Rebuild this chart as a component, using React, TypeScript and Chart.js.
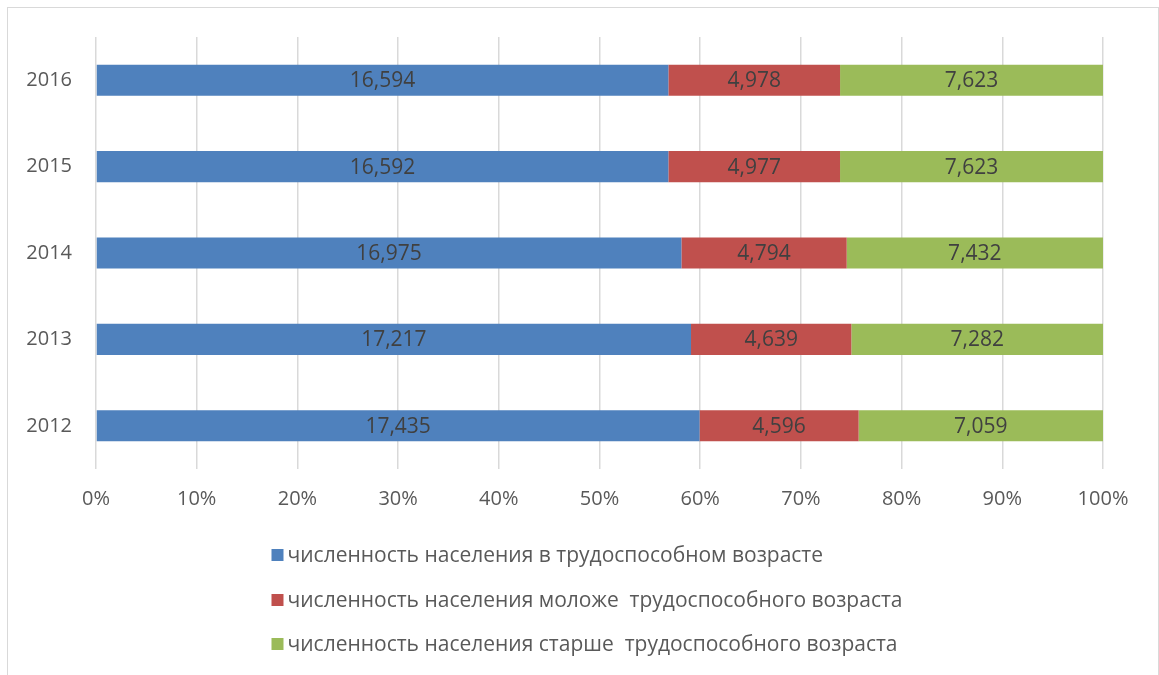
import React, { useEffect, useRef } from 'react';
import { Chart, registerables } from 'chart.js';

Chart.register(...registerables);

// ---- Data ----
const years = ['2012', '2013', '2014', '2015', '2016'];
const workingAge = [17.435, 17.217, 16.975, 16.592, 16.594];
const belowWorkingAge = [4.596, 4.639, 4.794, 4.977, 4.978];
const aboveWorkingAge = [7.059, 7.282, 7.432, 7.623, 7.623];
const seriesNames = [
  'численность населения в трудоспособном возрасте',
  'численность населения моложе  трудоспособного возраста',
  'численность населения старше  трудоспособного возраста',
];
const seriesColors = ['#4F81BD', '#C0504D', '#9BBB59'];
const xTickStep = 10;

const rawSeries = [workingAge, belowWorkingAge, aboveWorkingAge];
const totals = years.map((_, i) => rawSeries.reduce((s, arr) => s + arr[i], 0));
const percentSeries = rawSeries.map((arr) => arr.map((v, i) => (v / totals[i]) * 100));

const FONT = '"Open Sans", "Liberation Sans", sans-serif';

const fmt = (v: number) => v.toFixed(3).replace('.', ',');

const valueLabels = {
  id: 'valueLabels',
  afterDatasetsDraw(chart: any) {
    const ctx = chart.ctx;
    ctx.save();
    ctx.font = `21px ${FONT}`;
    ctx.fillStyle = '#404040';
    ctx.textAlign = 'center';
    ctx.textBaseline = 'middle';
    chart.data.datasets.forEach((ds: any, i: number) => {
      const meta = chart.getDatasetMeta(i);
      meta.data.forEach((el: any, j: number) => {
        const { x, y, base } = el.getProps(['x', 'y', 'base'], true);
        ctx.fillText(fmt(rawSeries[i][j]), (x + base) / 2, y + 1);
      });
    });
    ctx.restore();
  },
};

const verticalLegend = {
  id: 'verticalLegend',
  afterDraw(chart: any) {
    const ctx = chart.ctx;
    const area = chart.chartArea;
    ctx.save();
    ctx.font = `21px ${FONT}`;
    const box = 12;
    const gap = 4;
    const widths = chart.data.datasets.map((ds: any) => ctx.measureText(ds.label).width);
    const blockW = box + gap + Math.max(...widths);
    const left = (chart.width - blockW) / 2 + 4;
    const offsets = [86, 131, 175];
    chart.data.datasets.forEach((ds: any, i: number) => {
      const cy = area.bottom + offsets[i];
      ctx.fillStyle = ds.backgroundColor;
      ctx.fillRect(left, cy - box / 2, box, box);
      ctx.fillStyle = '#595959';
      ctx.textAlign = 'left';
      ctx.textBaseline = 'middle';
      ctx.fillText(ds.label, left + box + gap, cy + 1);
    });
    ctx.restore();
  },
};

export default function App() {
  const canvasRef = useRef<HTMLCanvasElement | null>(null);

  useEffect(() => {
    if (!canvasRef.current) return;
    const chart = new Chart(canvasRef.current, {
      type: 'bar',
      data: {
        labels: years,
        datasets: percentSeries.map((data, i) => ({
          label: seriesNames[i],
          data,
          backgroundColor: seriesColors[i],
          borderWidth: 0,
          barPercentage: 0.36,
          categoryPercentage: 1.0,
        })),
      },
      options: {
        indexAxis: 'y',
        animation: false,
        responsive: true,
        maintainAspectRatio: false,
        layout: { padding: { left: 0, right: 55, top: 29, bottom: 157 } },
        plugins: {
          legend: { display: false },
          tooltip: { enabled: false },
        },
        scales: {
          x: {
            stacked: true,
            min: 0,
            max: 100,
            afterFit: (scale: any) => {
              scale.height = 50;
            },
            ticks: {
              stepSize: xTickStep,
              padding: 18,
              color: '#595959',
              font: { family: FONT, size: 20 },
              callback: (v: any) => `${v}%`,
            },
            grid: { color: '#d9d9d9', lineWidth: 1.5, drawTicks: false },
            border: { display: false },
          },
          y: {
            stacked: true,
            reverse: true,
            afterFit: (scale: any) => {
              scale.width = 88;
              scale.paddingTop = 0;
              scale.paddingBottom = 0;
            },
            ticks: {
              padding: 24,
              color: '#595959',
              font: { family: FONT, size: 20 },
            },
            grid: { display: false, drawTicks: false },
            border: { display: false },
          },
        },
      },
      plugins: [valueLabels, verticalLegend],
    });
    return () => chart.destroy();
  }, []);

  return (
    <div
      style={{
        position: 'fixed',
        left: 7,
        top: 7,
        width: 1150,
        height: 668,
        borderTop: '1px solid #d9d9d9',
        borderLeft: '1px solid #d9d9d9',
        borderRight: '1px solid #d9d9d9',
        background: '#ffffff',
      }}
    >
      <canvas ref={canvasRef} />
    </div>
  );
}
